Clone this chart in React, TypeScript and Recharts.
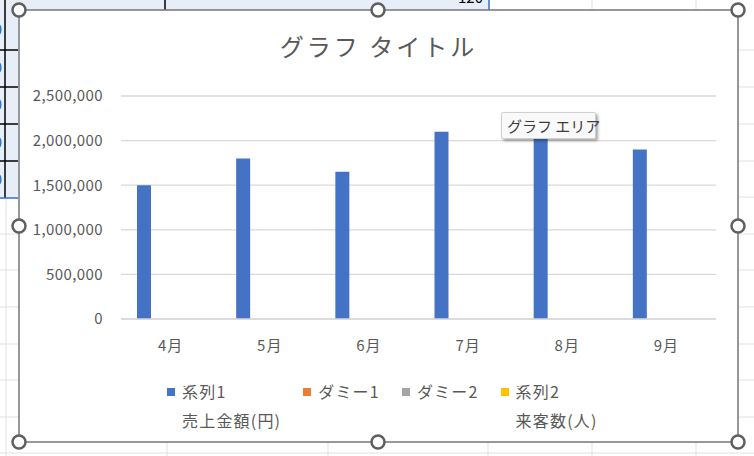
import React from 'react';
import { BarChart, Bar, XAxis, YAxis, CartesianGrid } from 'recharts';

const MONTHS = ['4月', '5月', '6月', '7月', '8月', '9月'];
const SALES = [1500000, 1800000, 1650000, 2100000, 2050000, 1900000];
const DUMMY1 = [0, 0, 0, 0, 0, 0];
const DUMMY2 = [0, 0, 0, 0, 0, 0];
const VISITORS = [0, 0, 0, 0, 0, 0];
const Y_TICKS = [0, 500000, 1000000, 1500000, 2000000, 2500000];

const SERIES = [
  { key: 's1', name: '系列1', sub: '売上金額(円)', color: '#4472C4' },
  { key: 'd1', name: 'ダミー1', sub: '', color: '#ED7D31' },
  { key: 'd2', name: 'ダミー2', sub: '', color: '#A5A5A5' },
  { key: 's2', name: '系列2', sub: '来客数(人)', color: '#FFC000' }
];

const TEXT_COLOR = '#595959';
const GRID_COLOR = '#D9D9D9';
const FONT = '"Noto Sans CJK JP", "Noto Sans", sans-serif';

const chartData = MONTHS.map((m, i) => ({
  month: m,
  s1: SALES[i],
  d1: DUMMY1[i],
  d2: DUMMY2[i],
  s2: VISITORS[i]
}));

// spreadsheet cell lines around the chart
const ROW_LINES = [50, 87, 124, 161, 197, 234, 270, 307, 344, 380, 417, 453];
const COL_LINES = [167, 328, 488, 592, 696];

const Sheet = () => (
  <svg width={754} height={456} style={{ position: 'absolute', left: 0, top: 0 }}>
    <rect x={0} y={0} width={754} height={456} fill="#fff" />
    {COL_LINES.map(x => (
      <line key={'c' + x} x1={x} x2={x} y1={0} y2={456} stroke="#E1E1E1" />
    ))}
    {ROW_LINES.map(y => (
      <line key={'r' + y} x1={0} x2={754} y1={y} y2={y} stroke="#E1E1E1" />
    ))}
    <line x1={6} x2={6} y1={0} y2={456} stroke="#E1E1E1" />
    {/* selected range */}
    <rect x={0} y={0} width={18} height={198} fill="#E7EEF8" />
    <rect x={0} y={0} width={489} height={10} fill="#E7EEF8" />
    {[50, 87, 124, 161].map(y => (
      <line key={'b' + y} x1={0} x2={18} y1={y} y2={y} stroke="#000" strokeWidth={1.5} />
    ))}
    <line x1={5} x2={5} y1={0} y2={198} stroke="#000" strokeWidth={1.5} />
    <line x1={165} x2={165} y1={0} y2={10} stroke="#000" strokeWidth={1.5} />
    <line x1={0} x2={18} y1={198} y2={198} stroke="#2F6FD0" strokeWidth={1.5} />
    <line x1={489} x2={489} y1={0} y2={10} stroke="#2F6FD0" strokeWidth={1.5} />
    <text x={483} y={3} textAnchor="end" fontSize={15} fontFamily={FONT} fill="#000">120</text>
    {[30, 68, 105, 143, 180].map(y => (
      <text key={'t' + y} x={2} y={y + 5} textAnchor="end" fontSize={15} fontFamily={FONT} fill="#1F5FBF">0</text>
    ))}
  </svg>
);

const HANDLES: Array<[number, number]> = [
  [19, 10], [378, 10], [738, 10],
  [19, 226], [738, 226],
  [19, 442], [378, 442], [738, 442]
];

const Frame = () => (
  <svg width={754} height={456} style={{ position: 'absolute', left: 0, top: 0, pointerEvents: 'none' }}>
    <rect x={19} y={10} width={719} height={432} fill="none" stroke="#767676" strokeWidth={1.5} />
    {HANDLES.map(([x, y]) => (
      <circle key={x + '-' + y} cx={x} cy={y} r={6.5} fill="#fff" stroke="#5F5F5F" strokeWidth={2.5} />
    ))}
  </svg>
);

export default function App() {
  return (
    <div style={{ position: 'fixed', left: 0, top: 0, width: 754, height: 456, overflow: 'hidden', fontFamily: FONT }}>
      <Sheet />
      <div style={{ position: 'absolute', left: 19, top: 10, width: 719, height: 432, background: '#fff' }}>
        <div
          style={{
            position: 'absolute', left: 0, top: 20, width: 719, textAlign: 'center',
            fontSize: 24, lineHeight: '32px', color: TEXT_COLOR, letterSpacing: 3
          }}
        >
          グラフ タイトル
        </div>
        <BarChart
          width={719}
          height={432}
          data={chartData}
          margin={{ top: 86, right: 22, bottom: 0, left: 0 }}
          barSize={14}
          barGap={3.5}
          style={{ position: 'absolute', left: 0, top: 0 }}
        >
          <CartesianGrid vertical={false} stroke={GRID_COLOR} strokeWidth={1.3} />
          <XAxis
            dataKey="month"
            height={123}
            tickLine={false}
            axisLine={{ stroke: GRID_COLOR, strokeWidth: 1.3 }}
            tickMargin={15}
            tick={{ fill: TEXT_COLOR, fontSize: 15, fontFamily: FONT, letterSpacing: 1 }}
          />
          <YAxis
            width={102}
            domain={[0, 2500000]}
            ticks={Y_TICKS}
            tickLine={false}
            axisLine={false}
            tickMargin={12}
            tickFormatter={(v: number) => v.toLocaleString('en-US')}
            tick={{ fill: TEXT_COLOR, fontSize: 15, fontFamily: FONT, letterSpacing: 0.4 }}
          />
          {SERIES.map(s => (
            <Bar key={s.key} dataKey={s.key} name={s.name} fill={s.color} isAnimationActive={false} />
          ))}
        </BarChart>
      </div>
      {/* legend */}
      <div style={{ position: 'absolute', left: 167, top: 377, display: 'flex', gap: 22, fontSize: 16, lineHeight: '29px', color: TEXT_COLOR, letterSpacing: 1.2 }}>
        {SERIES.map(s => (
          <div key={s.key} style={{ display: 'flex', alignItems: 'flex-start' }}>
            <span style={{ width: 8, height: 8, background: s.color, marginTop: 11, marginRight: 7 }} />
            <div style={{ display: 'flex', flexDirection: 'column' }}>
              <span>{s.name}</span>
              {s.sub && <span>{s.sub}</span>}
            </div>
          </div>
        ))}
      </div>
      {/* hover tip shown in the screenshot */}
      <div
        style={{
          position: 'absolute', left: 501, top: 112, width: 95, height: 27, boxSizing: 'border-box',
          background: '#F9F9F9', border: '1px solid #D0D0D0', borderRadius: 2,
          boxShadow: '2px 2px 3px rgba(0,0,0,0.35)', fontSize: 15, lineHeight: '25px',
          color: '#3C3C3C', paddingLeft: 5, whiteSpace: 'nowrap'
        }}
      >
        グラフ エリア
      </div>
      <Frame />
    </div>
  );
}
